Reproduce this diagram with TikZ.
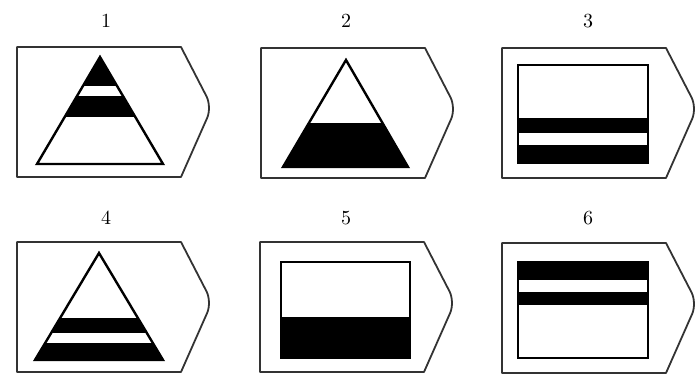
\documentclass[tikz,border=0pt]{standalone}
\begin{document}
\begin{tikzpicture}[x=0.5pt,y=-0.5pt,
  tagline/.style={draw=black!80,line width=0.9pt,line join=round},
  figline/.style={draw=black,line width=1.2pt,line join=miter},
  num/.style={font=\normalsize,inner sep=0pt}]
\useasboundingbox (0,0) rectangle (697,374);
% tag outlines
\foreach \lx/\ty in {17/47,261/48,502/48,17/242,260/242,502/243}{
  \draw[tagline] (\lx,\ty) -- ++(164,0) [rounded corners=6pt] -- ++(31,60) [sharp corners] -- ++(-31,70) -- ++(-164,0) -- cycle;
}
% labels
\node[num] (l1) at (106,21) {1};
\node[num] (l2) at (346,21) {2};
\node[num] (l3) at (588,21) {3};
\node[num] (l4) at (106,218) {4};
\node[num] (l5) at (346,218) {5};
\node[num] (l6) at (588,218) {6};
% panel 1 triangle
\begin{scope}
  \clip (100,57) -- (37,164) -- (163,164) -- cycle;
  \fill[black] (30,50) rectangle (170,86);
  \fill[black] (30,96) rectangle (170,117);
\end{scope}
\draw[figline] (100,57) -- (37,164) -- (163,164) -- cycle;
% panel 2 triangle
\begin{scope}
  \clip (346,60) -- (283,167) -- (408,167) -- cycle;
  \fill[black] (275,123) rectangle (415,170);
\end{scope}
\draw[figline] (346,60) -- (283,167) -- (408,167) -- cycle;
% panel 3 rectangle
\fill[black] (518,118) rectangle (648,133);
\fill[black] (518,145) rectangle (648,163);
\draw[figline] (518,65) rectangle (648,163);
% panel 4 triangle
\begin{scope}
  \clip (99,253) -- (35,360) -- (163,360) -- cycle;
  \fill[black] (30,318) rectangle (170,333);
  \fill[black] (30,343) rectangle (170,365);
\end{scope}
\draw[figline] (99,253) -- (35,360) -- (163,360) -- cycle;
% panel 5 rectangle
\fill[black] (281,317) rectangle (410,358);
\draw[figline] (281,262) rectangle (410,358);
% panel 6 rectangle
\fill[black] (518,262) rectangle (648,280);
\fill[black] (518,292) rectangle (648,305);
\draw[figline] (518,262) rectangle (648,358);
\end{tikzpicture}
\end{document}
